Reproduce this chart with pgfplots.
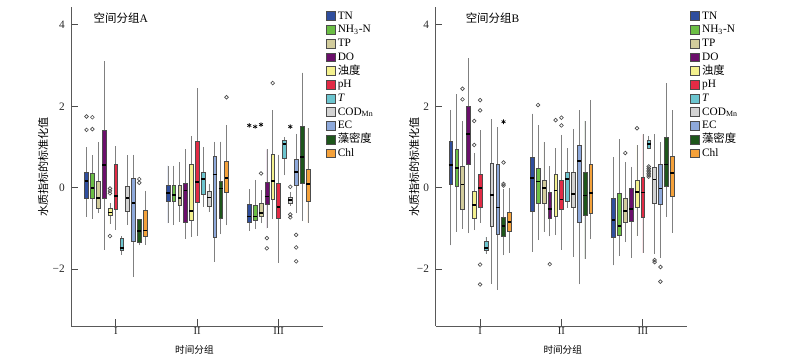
\documentclass[border=0pt]{standalone}
\usepackage{fontspec}
\setmainfont{Liberation Serif}
\newfontfamily\cjk{Noto Sans CJK SC}
\usepackage{pgfplots}
\usepackage{pgfplotstable}
\pgfplotsset{compat=1.18}
\usepgfplotslibrary{statistics}

\definecolor{cTN}{HTML}{2F4E9E}
\definecolor{cNH}{HTML}{6BBE45}
\definecolor{cTP}{HTML}{D2CC9C}
\definecolor{cDO}{HTML}{6B0F6B}
\definecolor{cTU}{HTML}{F4F18E}
\definecolor{cPH}{HTML}{E22B45}
\definecolor{cT}{HTML}{6CC5CF}
\definecolor{cCOD}{HTML}{D3D3D3}
\definecolor{cEC}{HTML}{8EA9DB}
\definecolor{cAL}{HTML}{1E561B}
\definecolor{cCHL}{HTML}{F4A13A}

% rows: TN, NH3-N, TP, DO, turbidity, pH, T, COD, EC, algae, Chl
\pgfplotstableread{
lw lq med uq uw
-0.71 -0.25 0.16 0.37 0.99
-0.77 -0.27 0.00 0.35 0.80
-0.63 -0.50 -0.25 0.17 1.11
-1.52 -0.25 0.55 1.40 3.11
-0.90 -0.69 -0.61 -0.51 -0.37
-1.04 -0.53 -0.20 0.57 1.02
-1.66 -1.55 -1.48 -1.25 -1.20
-0.92 -0.57 -0.25 0.04 0.80
-2.20 -1.32 -0.37 0.22 0.81
-1.41 -1.34 -1.07 -0.77 -0.77
-1.41 -1.19 -1.05 -0.56 -0.07
}\tabAI
\pgfplotstableread{
lw lq med uq uw
-0.87 -0.34 -0.14 0.07 0.54
-0.92 -0.34 -0.18 0.06 0.54
-0.84 -0.43 -0.25 0.07 0.63
-1.25 -0.86 -0.07 0.11 0.94
-1.21 -0.80 -0.58 0.57 1.28
-1.18 -0.35 0.13 1.14 2.44
-0.47 -0.16 0.22 0.37 1.00
-0.61 -0.45 -0.24 -0.10 0.10
-1.82 -1.23 0.32 0.76 1.13
-1.14 -0.76 -0.02 0.16 1.13
-0.93 -0.11 0.24 0.66 1.54
}\tabAII
\pgfplotstableread{
lw lq med uq uw
-1.06 -0.85 -0.71 -0.40 -0.04
-1.02 -0.80 -0.71 -0.42 0.19
-0.88 -0.70 -0.63 -0.39 -0.06
-1.00 -0.41 -0.22 0.14 0.94
-0.78 -0.29 0.17 0.83 1.91
-1.84 -0.76 -0.47 0.12 0.81
0.30 0.72 1.07 1.17 1.25
-0.45 -0.39 -0.30 -0.24 -0.10
-0.63 0.05 0.39 0.71 1.33
-0.82 0.11 0.75 1.50 2.83
-0.86 -0.33 0.09 0.46 1.46
}\tabAIII
\pgfplotstableread{
lw lq med uq uw
-1.42 0.08 0.56 1.15 1.91
-1.08 0.03 0.48 0.94 2.30
-1.01 -0.53 0.08 0.53 1.64
-1.12 0.57 1.31 2.01 3.18
-1.05 -0.75 -0.43 -0.09 0.86
-0.86 -0.48 0.00 0.34 1.41
-1.62 -1.54 -1.49 -1.31 -1.21
-2.36 -0.95 -0.18 0.60 1.68
-2.51 -1.15 -0.49 0.57 1.49
-1.66 -1.20 -0.94 -0.72 -0.04
-1.60 -1.07 -0.85 -0.60 0.00
}\tabBI
\pgfplotstableread{
lw lq med uq uw
-1.57 -0.57 0.23 0.74 1.82
-1.29 -0.39 0.15 0.48 1.53
-1.08 -0.39 -0.01 0.18 1.12
-1.20 -0.74 -0.52 -0.12 0.53
-1.17 -0.70 -0.07 0.33 0.97
-1.52 -0.54 -0.29 0.18 1.30
-0.49 -0.33 0.22 0.37 0.97
-1.70 -0.49 -0.16 0.39 1.45
-2.38 -0.85 0.66 1.04 1.90
-1.75 -0.68 -0.19 0.39 1.64
-1.27 -0.64 -0.13 0.58 2.16
}\tabBII
\pgfplotstableread{
lw lq med uq uw
-1.91 -1.23 -0.80 -0.26 0.75
-1.68 -1.16 -0.94 -0.14 1.19
-1.34 -0.86 -0.57 -0.25 0.63
-1.72 -0.82 -0.53 -0.02 0.51
-1.19 -0.47 -0.11 0.18 1.05
-1.60 -0.72 -0.12 0.25 1.31
0.94 0.97 1.07 1.17 1.28
-1.64 -0.39 0.20 0.51 1.31
-1.72 -0.41 -0.02 0.57 1.12
-0.71 0.04 0.57 1.23 2.56
-1.11 -0.22 0.36 0.78 1.90
}\tabBIII

\pgfplotstableread{
x y
0.64 1.75
0.64 1.42
0.712 1.73
0.712 1.44
0.928 -0.02
0.928 -0.08
0.928 -0.14
0.928 -1.19
1.288 0.21
1.288 0.12
2.36 2.22
2.784 0.35
2.856 -1.24
2.856 -1.49
2.928 2.57
3.144 0.02
3.144 -0.66
3.144 -0.73
3.216 -1.16
3.216 -1.47
3.216 -1.81
}\outA
\pgfplotstableread{
x y
2.64 1.53
2.712 1.50
2.784 1.55
3.144 1.50
}\starA
\pgfplotstableread{
x y
0.784 2.43
0.784 2.17
0.928 1.64
0.928 1.05
1.0 2.15
1.0 1.90
1.0 -1.89
1.0 -2.38
1.288 0.62
1.288 0.09
1.288 0.05
1.712 2.03
1.856 -1.88
1.928 1.66
2.0 1.72
2.0 1.53
2.784 0.85
2.928 1.46
3.072 0.27
3.072 0.31
3.072 0.35
3.072 0.39
3.072 0.43
3.072 0.47
3.072 0.52
3.144 -1.78
3.144 -1.83
3.216 -1.95
3.216 -2.31
}\outB
\pgfplotstableread{
x y
1.288 1.62
}\starB

\pgfplotsset{
  bxs/.style={draw=black!70, line width=0.35pt, forget plot,
    boxplot/draw direction=y,
    boxplot/box extend=0.046, boxplot/whisker extend=0,
    boxplot/every whisker/.style={draw=black!50, line width=0.5pt},
    boxplot/every median/.style={draw=black, line width=1.3pt}},
  legsq/.style={draw=black!70, line width=0.4pt, fill=#1,
    legend image code/.code={\draw[##1] (0pt,-3.3pt) rectangle (6.3pt,3.3pt);}},
  pan/.style={scale only axis, width=188.6pt, height=239.25pt,
    xmin=0.455, xmax=3.545, ymin=-3.40, ymax=4.44,
    axis x line*=bottom, axis y line*=left,
    axis line style={black!65, line width=0.6pt},
    tick align=inside, major tick length=5pt,
    tick style={black!70, line width=0.6pt},
    xtick={1,2,3}, xticklabels={I,II,III},
    ytick={-2,0,2,4}, yticklabels={−2,0,2,4},
    minor tick num=0,
    yticklabel style={font=\fontsize{8.5}{9}\selectfont, text=black!85, xshift=-1.5pt},
    xticklabel style={inner sep=1pt, font=\fontsize{8}{9}\selectfont, text=black!85},
    xlabel={\cjk 时间分组},
    ylabel={\cjk 水质指标的标准化值},
    xlabel style={anchor=center, font=\fontsize{7.2}{8}\selectfont},
    ylabel style={anchor=center, font=\fontsize{8.3}{9}\selectfont},
    legend cell align=left,
    legend style={at={(axis description cs:1.012,0.99)}, anchor=north west,
      draw=none, fill=none, inner sep=0pt, row sep=2pt,
      font=\fontsize{8.5}{9}\selectfont,
      nodes={inner sep=0pt, inner xsep=2pt, text height=6.5pt, text depth=1.8pt}},
  },
  outc/.style={only marks, mark=o, mark size=1.4pt, black!70, mark options={line width=0.5pt}, forget plot},
  outs/.style={only marks, mark=asterisk, mark size=1.7pt, black, mark options={line width=0.5pt}, forget plot},
}

\newcommand{\bx}[4]{%
  \pgfplotstablegetelem{#2}{lw}\of{#1}\let\vlw\pgfplotsretval
  \pgfplotstablegetelem{#2}{lq}\of{#1}\let\vlq\pgfplotsretval
  \pgfplotstablegetelem{#2}{med}\of{#1}\let\vmed\pgfplotsretval
  \pgfplotstablegetelem{#2}{uq}\of{#1}\let\vuq\pgfplotsretval
  \pgfplotstablegetelem{#2}{uw}\of{#1}\let\vuw\pgfplotsretval
  \edef\tmpbx{\noexpand\addplot[bxs, fill=#3,
    boxplot prepared={draw position=#4,
      lower whisker=\vlw, lower quartile=\vlq, median=\vmed,
      upper quartile=\vuq, upper whisker=\vuw}] coordinates {};}%
  \tmpbx}
\newcommand{\grp}[2]{%
  \bx{#1}{0}{cTN}{#2-0.36}
  \bx{#1}{1}{cNH}{#2-0.288}
  \bx{#1}{2}{cTP}{#2-0.216}
  \bx{#1}{3}{cDO}{#2-0.144}
  \bx{#1}{4}{cTU}{#2-0.072}
  \bx{#1}{5}{cPH}{#2}
  \bx{#1}{6}{cT}{#2+0.072}
  \bx{#1}{7}{cCOD}{#2+0.144}
  \bx{#1}{8}{cEC}{#2+0.216}
  \bx{#1}{9}{cAL}{#2+0.288}
  \bx{#1}{10}{cCHL}{#2+0.36}}
\newcommand{\legs}{%
  \addlegendimage{legsq=cTN}\addlegendentry{TN}
  \addlegendimage{legsq=cNH}\addlegendentry{NH\textsubscript{3}-N}
  \addlegendimage{legsq=cTP}\addlegendentry{TP}
  \addlegendimage{legsq=cDO}\addlegendentry{DO}
  \addlegendimage{legsq=cTU}\addlegendentry{{\cjk 浊度}}
  \addlegendimage{legsq=cPH}\addlegendentry{pH}
  \addlegendimage{legsq=cT}\addlegendentry{\textit{T}}
  \addlegendimage{legsq=cCOD}\addlegendentry{COD\textsubscript{Mn}}
  \addlegendimage{legsq=cEC}\addlegendentry{EC}
  \addlegendimage{legsq=cAL}\addlegendentry{{\cjk 藻密度}}
  \addlegendimage{legsq=cCHL}\addlegendentry{Chl}}

\begin{document}
\begin{tikzpicture}
\useasboundingbox (0,0) rectangle (600pt,272.25pt);
\begin{axis}[pan, at={(53.6pt,27.75pt)}, anchor=south west,
  xlabel style={at={(axis description cs:0.489,-0.075)}},
  ylabel style={at={(axis description cs:-0.113,0.498)}}]
  \grp{\tabAI}{1}
  \grp{\tabAII}{2}
  \grp{\tabAIII}{3}
  \addplot[outc] table[x=x,y=y] {\outA};
  \addplot[outs] table[x=x,y=y] {\starA};
  \legs
  \node[anchor=west, font=\fontsize{8.6}{9}\selectfont] at (axis cs:0.670,4.17) {{\cjk 空间分组}A};
\end{axis}
\begin{axis}[pan, at={(326.8pt,27.75pt)}, anchor=south west,
  xlabel style={at={(axis description cs:0.505,-0.075)}},
  ylabel style={at={(axis description cs:-0.086,0.498)}}]
  \grp{\tabBI}{1}
  \grp{\tabBII}{2}
  \grp{\tabBIII}{3}
  \addplot[outc] table[x=x,y=y] {\outB};
  \addplot[outs] table[x=x,y=y] {\starB};
  \legs
  \node[anchor=west, font=\fontsize{8.6}{9}\selectfont] at (axis cs:0.766,4.17) {{\cjk 空间分组}B};
\end{axis}
\end{tikzpicture}
\end{document}
